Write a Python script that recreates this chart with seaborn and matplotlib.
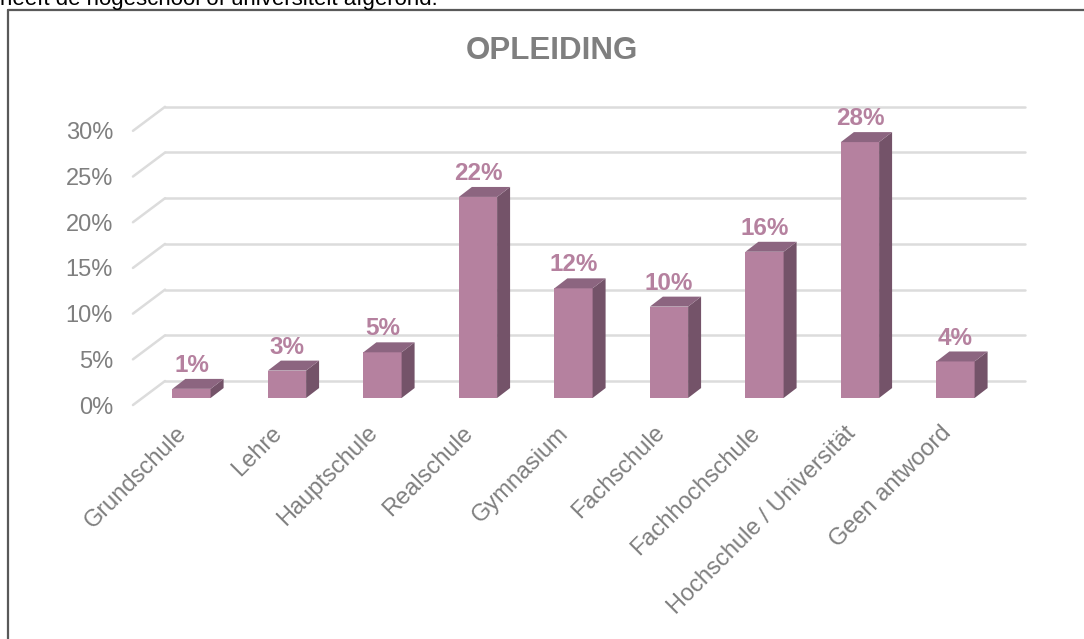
import numpy as np
import pandas as pd
import seaborn as sns
from matplotlib import pyplot as plt
from matplotlib.patches import Polygon
from matplotlib.lines import Line2D
from matplotlib.transforms import ScaledTranslation

# data
categories = ['Grundschule', 'Lehre', 'Hauptschule', 'Realschule', 'Gymnasium',
              'Fachschule', 'Fachhochschule', 'Hochschule / Universität', 'Geen antwoord']
values = [1, 3, 5, 22, 12, 10, 16, 28, 4]
yticks = [0, 5, 10, 15, 20, 25, 30]
title = 'OPLEIDING'
intro = 'heeft de hogeschool of universiteit afgerond.'

front_col = '#b5819f'
side_col = '#745369'
top_col = '#8c6580'
grid_col = '#dcdcdc'
text_col = '#7f7f7f'

sns.set_theme(style='white')
plt.rcParams['font.family'] = ['Liberation Sans', 'DejaVu Sans']

W, H = 1084, 639
fig = plt.figure(figsize=(W / 100, H / 100), dpi=100)

# axes placed in pixels: x = 191.5 + 95.5*i, y = 398 - 9.14*v
L, R, T, B = 120, 1050, 90, 420
ax = fig.add_axes([L / W, 1 - B / H, (R - L) / W, (B - T) / H])

df = pd.DataFrame({'cat': categories, 'val': values})
sns.barplot(data=df, x='cat', y='val', color=front_col, saturation=1,
            width=0.40, ax=ax, zorder=3, linewidth=0)

ax.set_xlim((L - 191.5) / 95.5, (R - 191.5) / 95.5)
ax.set_ylim((398 - B) / 9.14, (398 - T) / 9.14)

# 3D wall grid (back wall + diagonal to front)
back_dy, front_dy = 1.86, -0.77
x_front, x_back0, x_back1 = -0.613, -0.277, 8.73
for v in yticks:
    ax.add_line(Line2D([x_back0, x_back1], [v + back_dy, v + back_dy],
                       color=grid_col, lw=1.8, zorder=1))
    ax.add_line(Line2D([x_front, x_back0], [v + front_dy, v + back_dy],
                       color=grid_col, lw=1.8, zorder=1))

# side and top faces for bars
dx, dy = 0.136, 1.09
for p, v in zip(ax.patches, values):
    x0 = p.get_x()
    x1 = x0 + p.get_width()
    h = p.get_height()
    side = Polygon([(x1, 0), (x1 + dx, dy), (x1 + dx, h + dy), (x1, h)],
                   closed=True, facecolor=side_col, edgecolor='none', zorder=3)
    top = Polygon([(x0, h), (x0 + dx, h + dy), (x1 + dx, h + dy), (x1, h)],
                  closed=True, facecolor=top_col, edgecolor='none', zorder=3)
    ax.add_patch(side)
    ax.add_patch(top)
    ax.text(x0 + p.get_width() / 2, h + 1.85, f'{v}%', ha='center', va='baseline',
            fontsize=17.5, fontweight='bold', color=front_col, zorder=4)

ax.set_yticks([v + front_dy for v in yticks], [f'{v}%' for v in yticks])
ax.tick_params(axis='y', length=0, pad=5, labelsize=17, labelcolor=text_col)
ax.set_xticks(range(len(categories)), categories)
ax.tick_params(axis='x', length=0, pad=7, labelsize=17, labelcolor=text_col)
for lab in ax.get_xticklabels():
    lab.set_rotation(45)
    lab.set_ha('right')
    lab.set_va('center')
    lab.set_rotation_mode('anchor')
    lab.set_transform(lab.get_transform() + ScaledTranslation(-8 / 100, 0, fig.dpi_scale_trans))
ax.set_xlabel('')
ax.set_ylabel('')
sns.despine(ax=ax, left=True, bottom=True)
ax.patch.set_alpha(0)

# chart title and surrounding frame
fig.text(551.5 / W, 1 - 59 / H, title, ha='center', va='baseline',
         fontsize=22.5, fontweight='bold', color=text_col)
fig.add_artist(Line2D([8 / W, 8 / W], [0, 1 - 10 / H], color='#595959', lw=1.6))
fig.add_artist(Line2D([8 / W, 1], [1 - 10 / H, 1 - 10 / H], color='#595959', lw=1.6))
fig.text(0 / W, 1 - 5 / H, intro, ha='left', va='baseline', fontsize=16, color='#000000')

fig.savefig('out.png', dpi=100)
